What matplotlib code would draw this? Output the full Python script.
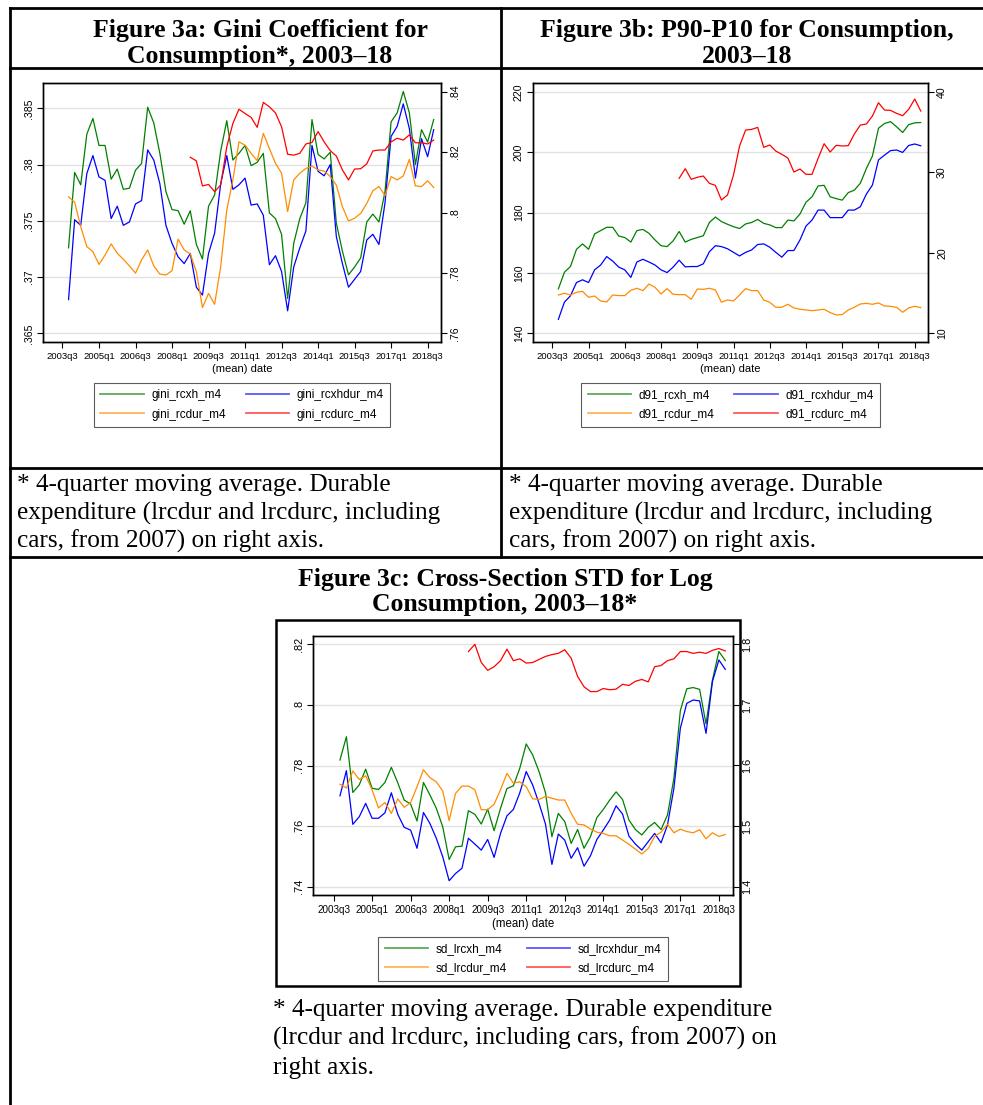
import numpy as np
import matplotlib
matplotlib.use("Agg")
import matplotlib.pyplot as plt
from matplotlib.lines import Line2D
from matplotlib.patches import Rectangle

W, H = 983, 1105

# quarters 2003q4 .. 2018q4 ; durables incl. cars from 2008q4
quarter_ticks = ["2003q3", "2005q1", "2006q3", "2008q1", "2009q3", "2011q1",
                 "2012q3", "2014q1", "2015q3", "2017q1", "2018q3"]
cars_start = 20

gini_rcxh = [0.3726, 0.3793, 0.3782, 0.3827, 0.3841, 0.3817, 0.3817, 0.3787, 0.3796, 0.3778,
             0.3779, 0.3795, 0.3801, 0.3851, 0.3837, 0.3810, 0.3776, 0.3760, 0.3759, 0.3747,
             0.3759, 0.3729, 0.3716, 0.3763, 0.3773, 0.3812, 0.3839, 0.3804, 0.3810, 0.3817,
             0.3799, 0.3802, 0.3810, 0.3757, 0.3752, 0.3738, 0.3681, 0.3730, 0.3752, 0.3766,
             0.3840, 0.3809, 0.3805, 0.3811, 0.3748, 0.3723, 0.3702, 0.3709, 0.3717, 0.3749,
             0.3756, 0.3749, 0.3776, 0.3838, 0.3846, 0.3865, 0.3846, 0.3800, 0.3831, 0.3820,
             0.3840]
gini_rcxhdur = [0.3680, 0.3751, 0.3746, 0.3792, 0.3808, 0.3789, 0.3786, 0.3752, 0.3763, 0.3746,
                0.3749, 0.3765, 0.3768, 0.3813, 0.3804, 0.3783, 0.3746, 0.3730, 0.3718, 0.3712,
                0.3721, 0.3691, 0.3684, 0.3721, 0.3739, 0.3783, 0.3808, 0.3778, 0.3782, 0.3788,
                0.3764, 0.3765, 0.3755, 0.3711, 0.3719, 0.3705, 0.3670, 0.3709, 0.3726, 0.3741,
                0.3817, 0.3794, 0.3790, 0.3800, 0.3736, 0.3712, 0.3691, 0.3698, 0.3705, 0.3733,
                0.3738, 0.3729, 0.3766, 0.3825, 0.3834, 0.3854, 0.3832, 0.3788, 0.3823, 0.3807,
                0.3831]
gini_rcdur = [0.8052, 0.8034, 0.7953, 0.7887, 0.7870, 0.7828, 0.7859, 0.7896, 0.7865, 0.7845,
              0.7823, 0.7799, 0.7843, 0.7876, 0.7823, 0.7796, 0.7793, 0.7807, 0.7912, 0.7876,
              0.7863, 0.7804, 0.7685, 0.7732, 0.7696, 0.7821, 0.8008, 0.8108, 0.8234, 0.8223,
              0.8196, 0.8172, 0.8262, 0.8212, 0.8163, 0.8130, 0.8003, 0.8108, 0.8130, 0.8146,
              0.8154, 0.8141, 0.8137, 0.8119, 0.8091, 0.8019, 0.7972, 0.7981, 0.7997, 0.8030,
              0.8072, 0.8086, 0.8056, 0.8119, 0.8108, 0.8121, 0.8176, 0.8088, 0.8086, 0.8105,
              0.8083]
gini_rcdurc = [0.8183, 0.8171, 0.8088, 0.8093, 0.8069, 0.8091, 0.8218, 0.8295, 0.8342, 0.8328,
               0.8315, 0.8282, 0.8365, 0.8350, 0.8330, 0.8284, 0.8193, 0.8190, 0.8196, 0.8227,
               0.8232, 0.8268, 0.8234, 0.8205, 0.8187, 0.8141, 0.8108, 0.8144, 0.8145, 0.8161,
               0.8204, 0.8207, 0.8207, 0.8234, 0.8246, 0.8240, 0.8257, 0.8231, 0.8231, 0.8227,
               0.8240]

d91_rcxh = [154.7, 160.2, 162.1, 167.8, 169.6, 167.8, 172.9, 174.0, 175.1, 175.1,
            172.2, 171.7, 170.2, 174.0, 174.4, 173.1, 170.9, 169.0, 168.7, 170.6,
            173.7, 170.2, 171.1, 171.7, 172.3, 176.7, 178.5, 177.0, 176.1, 175.3,
            174.7, 176.2, 176.7, 177.7, 176.4, 175.9, 175.0, 175.0, 177.5, 177.2,
            179.5, 183.4, 185.2, 188.8, 189.0, 185.2, 184.6, 184.1, 186.6, 187.4,
            189.7, 194.6, 198.7, 207.9, 209.5, 210.1, 208.4, 206.5, 209.1, 209.7,
            209.8]
d91_rcxhdur = [144.6, 150.3, 152.4, 156.8, 157.7, 156.8, 161.0, 162.6, 165.4, 163.9,
               161.9, 161.0, 158.5, 163.6, 164.5, 163.6, 162.6, 161.0, 160.1, 161.9,
               164.2, 162.0, 162.1, 162.1, 163.0, 167.0, 169.0, 168.7, 168.0, 166.8,
               165.6, 166.8, 167.6, 169.4, 169.6, 168.5, 166.8, 165.2, 167.4, 167.4,
               170.9, 175.5, 177.5, 180.8, 180.8, 178.3, 178.3, 178.3, 180.8, 180.8,
               181.9, 186.1, 189.1, 197.4, 199.0, 200.5, 200.7, 199.9, 202.2, 202.7,
               202.1]
d91_rcdur = [14.76, 14.97, 14.76, 15.09, 15.21, 14.47, 14.63, 14.01, 13.89, 14.76,
             14.68, 14.68, 15.34, 15.59, 15.30, 16.12, 15.71, 14.88, 15.55, 14.84,
             14.80, 14.80, 14.22, 15.50, 15.46, 15.59, 15.38, 13.85, 14.14, 14.01,
             14.76, 15.55, 15.30, 15.30, 14.14, 13.85, 13.23, 13.23, 13.60, 13.15,
             12.98, 12.90, 12.81, 12.90, 12.98, 12.57, 12.28, 12.32, 12.90, 13.23,
             13.64, 13.72, 13.60, 13.77, 13.39, 13.35, 13.23, 12.61, 13.15, 13.35,
             13.19]
d91_rcdurc = [29.24, 30.44, 29.12, 29.37, 29.53, 28.62, 28.37, 26.55, 27.17, 29.66,
              33.26, 35.24, 35.32, 35.57, 33.09, 33.38, 32.63, 32.22, 31.77, 30.03,
              30.40, 29.74, 29.74, 31.72, 33.54, 32.51, 33.34, 33.26, 33.30, 34.74,
              35.86, 35.99, 36.98, 38.63, 37.72, 37.68, 37.31, 37.02, 37.81, 39.09,
              37.60]

sd_lrcxh = [0.7818, 0.7895, 0.7711, 0.7736, 0.7788, 0.7725, 0.7721, 0.7744, 0.7794, 0.7743,
            0.7686, 0.7673, 0.7617, 0.7744, 0.7703, 0.7659, 0.7598, 0.7490, 0.7532, 0.7534,
            0.7651, 0.7639, 0.7607, 0.7656, 0.7585, 0.7659, 0.7724, 0.7733, 0.7791, 0.7871,
            0.7835, 0.7780, 0.7710, 0.7565, 0.7642, 0.7615, 0.7543, 0.7589, 0.7527, 0.7565,
            0.7628, 0.7655, 0.7686, 0.7713, 0.7688, 0.7620, 0.7589, 0.7571, 0.7596, 0.7612,
            0.7589, 0.7637, 0.7758, 0.7981, 0.8053, 0.8057, 0.8051, 0.7937, 0.8082, 0.8176,
            0.8146]
sd_lrcxhdur = [0.7700, 0.7783, 0.7606, 0.7631, 0.7675, 0.7626, 0.7626, 0.7644, 0.7710, 0.7639,
               0.7596, 0.7587, 0.7527, 0.7645, 0.7609, 0.7560, 0.7499, 0.7420, 0.7444, 0.7461,
               0.7560, 0.7541, 0.7521, 0.7556, 0.7497, 0.7576, 0.7634, 0.7655, 0.7710, 0.7780,
               0.7736, 0.7675, 0.7607, 0.7474, 0.7574, 0.7554, 0.7494, 0.7529, 0.7468, 0.7502,
               0.7556, 0.7587, 0.7620, 0.7667, 0.7640, 0.7567, 0.7541, 0.7521, 0.7549, 0.7576,
               0.7545, 0.7604, 0.7725, 0.7923, 0.8005, 0.8016, 0.8013, 0.7906, 0.8077, 0.8148,
               0.8117]
sd_lrcdur = [1.569, 1.563, 1.591, 1.577, 1.583, 1.560, 1.530, 1.539, 1.521, 1.545,
             1.531, 1.539, 1.565, 1.593, 1.580, 1.573, 1.558, 1.509, 1.554, 1.566,
             1.566, 1.560, 1.527, 1.527, 1.536, 1.560, 1.587, 1.571, 1.573, 1.565,
             1.545, 1.544, 1.549, 1.546, 1.543, 1.543, 1.521, 1.503, 1.502, 1.495,
             1.490, 1.488, 1.484, 1.484, 1.477, 1.470, 1.462, 1.454, 1.463, 1.483,
             1.490, 1.503, 1.489, 1.495, 1.491, 1.489, 1.494, 1.479, 1.489, 1.483,
             1.486]
sd_lrcdurc = [1.788, 1.800, 1.770, 1.757, 1.763, 1.773, 1.792, 1.773, 1.776, 1.769,
              1.770, 1.775, 1.780, 1.783, 1.785, 1.791, 1.777, 1.747, 1.730, 1.722,
              1.722, 1.727, 1.725, 1.726, 1.734, 1.732, 1.739, 1.742, 1.738, 1.763,
              1.765, 1.773, 1.776, 1.788, 1.788, 1.785, 1.787, 1.785, 1.790, 1.793,
              1.789]

COLORS = {"xh": "#008000", "xhdur": "#0000ff", "dur": "#ff8c00", "durc": "#ff0000"}
SANS = "Liberation Sans"
SERIF = "Liberation Serif"


def fx(x):
    return x / W


def fy(y):
    return 1 - y / H


def panel(fig, box, left, right, names, lticks, llabels, rticks, rlabels,
          ylim_l, ylim_r, leg_top, fs=6.8):
    x0, y0, x1, y1 = box
    ax = fig.add_axes([fx(x0), fy(y1), (x1 - x0) / W, (y1 - y0) / H])
    ax2 = ax.twinx()
    t = np.arange(len(left[0]))
    td = np.arange(cars_start, cars_start + len(right[1]))
    lw = 0.9
    ax.plot(t, left[0], color=COLORS["xh"], lw=lw, zorder=3)
    ax.plot(t, left[1], color=COLORS["xhdur"], lw=lw, zorder=3)
    ax2.plot(t, right[0], color=COLORS["dur"], lw=lw)
    ax2.plot(td, right[1], color=COLORS["durc"], lw=lw)

    ax.set_xlim(-4.2, 61.2)
    ax.set_ylim(*ylim_l)
    ax2.set_ylim(*ylim_r)
    ax.set_xticks(np.arange(-1, 60, 6))
    ax.set_xticklabels(quarter_ticks, fontsize=fs, family=SANS)
    ax.set_yticks(lticks)
    ax.set_yticklabels(llabels, rotation=90, va="center", fontsize=fs + 0.8, family=SANS)
    ax2.set_yticks(rticks)
    ax2.set_yticklabels(rlabels, rotation=90, va="center", fontsize=fs + 0.8, family=SANS)
    ax.yaxis.grid(True, color="#e2e2e2", lw=1.0)
    ax.set_axisbelow(True)
    for a in (ax, ax2):
        a.tick_params(direction="out", length=4, width=0.8, pad=2.5, colors="black")
        for s in a.spines.values():
            s.set_linewidth(1.0)
    ax.tick_params(axis="x", pad=3.5)
    ax.set_xlabel("(mean) date", fontsize=fs + 1.2, family=SANS, labelpad=1.5)

    handles = [Line2D([], [], color=COLORS["xh"], lw=1.3, alpha=0.65),
               Line2D([], [], color=COLORS["dur"], lw=1.3, alpha=0.65),
               Line2D([], [], color=COLORS["xhdur"], lw=1.3, alpha=0.65),
               Line2D([], [], color=COLORS["durc"], lw=1.3, alpha=0.65)]
    labels = [names[0], names[2], names[1], names[3]]
    leg = fig.legend(handles, labels, ncol=2, loc="upper center",
                     bbox_to_anchor=(fx((x0 + x1) / 2), fy(leg_top)),
                     frameon=True, fancybox=False, edgecolor="#333333",
                     prop={"family": SANS, "size": 8.5},
                     handlelength=3.7, handletextpad=0.6, columnspacing=1.7,
                     labelspacing=0.6, borderpad=0.55, borderaxespad=0)
    leg.get_frame().set_linewidth(0.8)
    return ax


fig = plt.figure(figsize=(W / 100, H / 100), dpi=100)

# table grid
tlw = 2.0
for (xa, ya, xb, yb) in [(10, 8, W, 8), (10, 68, W, 68), (10, 468, W, 468),
                         (10, 557, W, 557), (10, 8, 10, H), (501, 8, 501, 557)]:
    fig.add_artist(Line2D([fx(xa), fx(xb)], [fy(ya), fy(yb)], color="black", lw=tlw))

# panel c graph region border
fig.add_artist(Rectangle((fx(276), fy(986)), (740 - 276) / W, (986 - 620) / H,
                         fill=False, edgecolor="black", lw=1.8))

hfs = 18.5
headers = [(260, 36.5, "Figure 3a: Gini Coefficient for"),
           (260, 63, "Consumption*, 2003–18"),
           (747, 36.5, "Figure 3b: P90-P10 for Consumption,"),
           (747, 63, "2003–18"),
           (505, 586, "Figure 3c: Cross-Section STD for Log"),
           (505, 611.5, "Consumption, 2003–18*")]
for hx, hy, txt in headers:
    fig.text(fx(hx), fy(hy), txt, ha="center", va="baseline",
             fontsize=hfs, fontweight="bold", family=SERIF)

note_ab = ["* 4-quarter moving average. Durable",
           "expenditure (lrcdur and lrcdurc, including",
           "cars, from 2007) on right axis."]
note_c = ["* 4-quarter moving average. Durable expenditure",
          "(lrcdur and lrcdurc, including cars, from 2007) on",
          "right axis."]
nfs = 18.2
for i, line in enumerate(note_ab):
    fig.text(fx(17), fy(491 + 28.5 * i), line, ha="left", va="baseline", fontsize=nfs, family=SERIF)
    fig.text(fx(509), fy(491 + 28.5 * i), line, ha="left", va="baseline", fontsize=nfs, family=SERIF)
for i, line in enumerate(note_c):
    fig.text(fx(273), fy(1016 + 29 * i), line, ha="left", va="baseline", fontsize=nfs, family=SERIF)

panel(fig, (43, 83, 441, 342), (gini_rcxh, gini_rcxhdur), (gini_rcdur, gini_rcdurc),
      ["gini_rcxh_m4", "gini_rcxhdur_m4", "gini_rcdur_m4", "gini_rcdurc_m4"],
      [0.365, 0.37, 0.375, 0.38, 0.385], [".365", ".37", ".375", ".38", ".385"],
      [0.76, 0.78, 0.80, 0.82, 0.84], [".76", ".78", ".8", ".82", ".84"],
      (0.36423, 0.38725), (0.7571, 0.8429), 383)

panel(fig, (533, 83, 928, 342), (d91_rcxh, d91_rcxhdur), (d91_rcdur, d91_rcdurc),
      ["d91_rcxh_m4", "d91_rcxhdur_m4", "d91_rcdur_m4", "d91_rcdurc_m4"],
      [140, 160, 180, 200, 220], ["140", "160", "180", "200", "220"],
      [10, 20, 30, 40], ["10", "20", "30", "40"],
      (137.1, 222.9), (8.92, 41.08), 383)

panel(fig, (313, 636, 733, 895), (sd_lrcxh, sd_lrcxhdur), (sd_lrcdur, sd_lrcdurc),
      ["sd_lrcxh_m4", "sd_lrcxhdur_m4", "sd_lrcdur_m4", "sd_lrcdurc_m4"],
      [0.74, 0.76, 0.78, 0.80, 0.82], [".74", ".76", ".78", ".8", ".82"],
      [1.4, 1.5, 1.6, 1.7, 1.8], ["1.4", "1.5", "1.6", "1.7", "1.8"],
      (0.7373, 0.8227), (1.3863, 1.8137), 937, fs=7.1)

fig.savefig("out.png", dpi=100)
